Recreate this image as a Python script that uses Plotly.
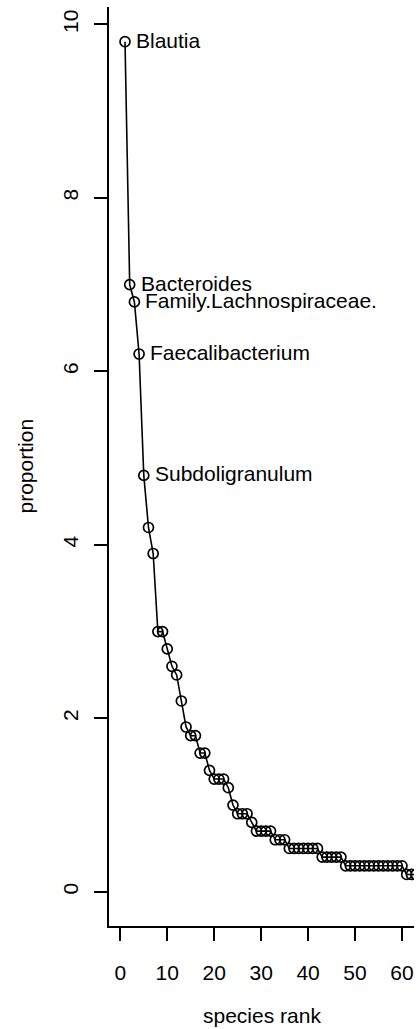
import plotly.graph_objects as go

ranks = list(range(1, 64))
proportion = [9.8, 7.0, 6.8, 6.2, 4.8, 4.2, 3.9, 3.0, 3.0, 2.8,
              2.6, 2.5, 2.2, 1.9, 1.8, 1.8, 1.6, 1.6, 1.4, 1.3,
              1.3, 1.3, 1.2, 1.0, 0.9, 0.9, 0.9, 0.8, 0.7, 0.7,
              0.7, 0.7, 0.6, 0.6, 0.6,
              0.5, 0.5, 0.5, 0.5, 0.5, 0.5, 0.5,
              0.4, 0.4, 0.4, 0.4, 0.4,
              0.3, 0.3, 0.3, 0.3, 0.3, 0.3, 0.3, 0.3, 0.3, 0.3, 0.3, 0.3, 0.3,
              0.2, 0.2, 0.2]
top_labels = ["Blautia", "Bacteroides", "Family.Lachnospiraceae.",
              "Faecalibacterium", "Subdoligranulum"]
x_ticks = [0, 10, 20, 30, 40, 50, 60]
y_ticks = [0, 2, 4, 6, 8, 10]

FONT = "Liberation Sans, Arial, Helvetica, sans-serif"
FS = 21

fig = go.Figure()
fig.add_trace(go.Scatter(
    x=ranks, y=proportion, mode="lines+markers",
    line=dict(color="black", width=1.6),
    marker=dict(symbol="circle-open", size=10, color="black",
                line=dict(width=1.7, color="black")),
    showlegend=False, hoverinfo="x+y",
))

annotations = []
for i, lab in enumerate(top_labels):
    annotations.append(dict(
        x=ranks[i], y=proportion[i], xref="x", yref="y", text=lab,
        showarrow=False, xanchor="left", yanchor="middle",
        xshift=9, yshift=1.5,
        font=dict(family=FONT, size=FS, color="black"),
    ))
annotations.append(dict(
    x=0, y=0.5, xref="paper", yref="paper", text="proportion",
    showarrow=False, xanchor="center", yanchor="middle", textangle=-90,
    xshift=-84, font=dict(family=FONT, size=FS, color="black"),
))
annotations.append(dict(
    x=0.5, y=0, xref="paper", yref="paper", text="species rank",
    showarrow=False, xanchor="center", yanchor="middle",
    yshift=-89, font=dict(family=FONT, size=FS, color="black"),
))

fig.update_layout(
    width=416, height=1029,
    margin=dict(l=109, r=2, t=7, b=103),
    paper_bgcolor="white", plot_bgcolor="white",
    font=dict(family=FONT, size=FS, color="black"),
    annotations=annotations,
    xaxis=dict(
        range=[-2.41, 62.56], tickvals=x_ticks, ticktext=[str(v) for v in x_ticks],
        showline=True, linecolor="black", linewidth=1.6, mirror=False,
        ticks="outside", ticklen=13, tickwidth=1.6, tickcolor="black",
        showgrid=False, zeroline=False, ticklabelstandoff=14,
        tickfont=dict(family=FONT, size=FS, color="black"),
    ),
    yaxis=dict(
        range=[-0.394, 10.20], tickvals=y_ticks, ticktext=[str(v) for v in y_ticks],
        showline=True, linecolor="black", linewidth=1.6, mirror=False,
        ticks="outside", ticklen=13, tickwidth=1.6, tickcolor="black",
        showgrid=False, zeroline=False, tickangle=-90, ticklabelstandoff=8,
        tickfont=dict(family=FONT, size=FS, color="black"),
    ),
)

fig.write_html("out.html")
